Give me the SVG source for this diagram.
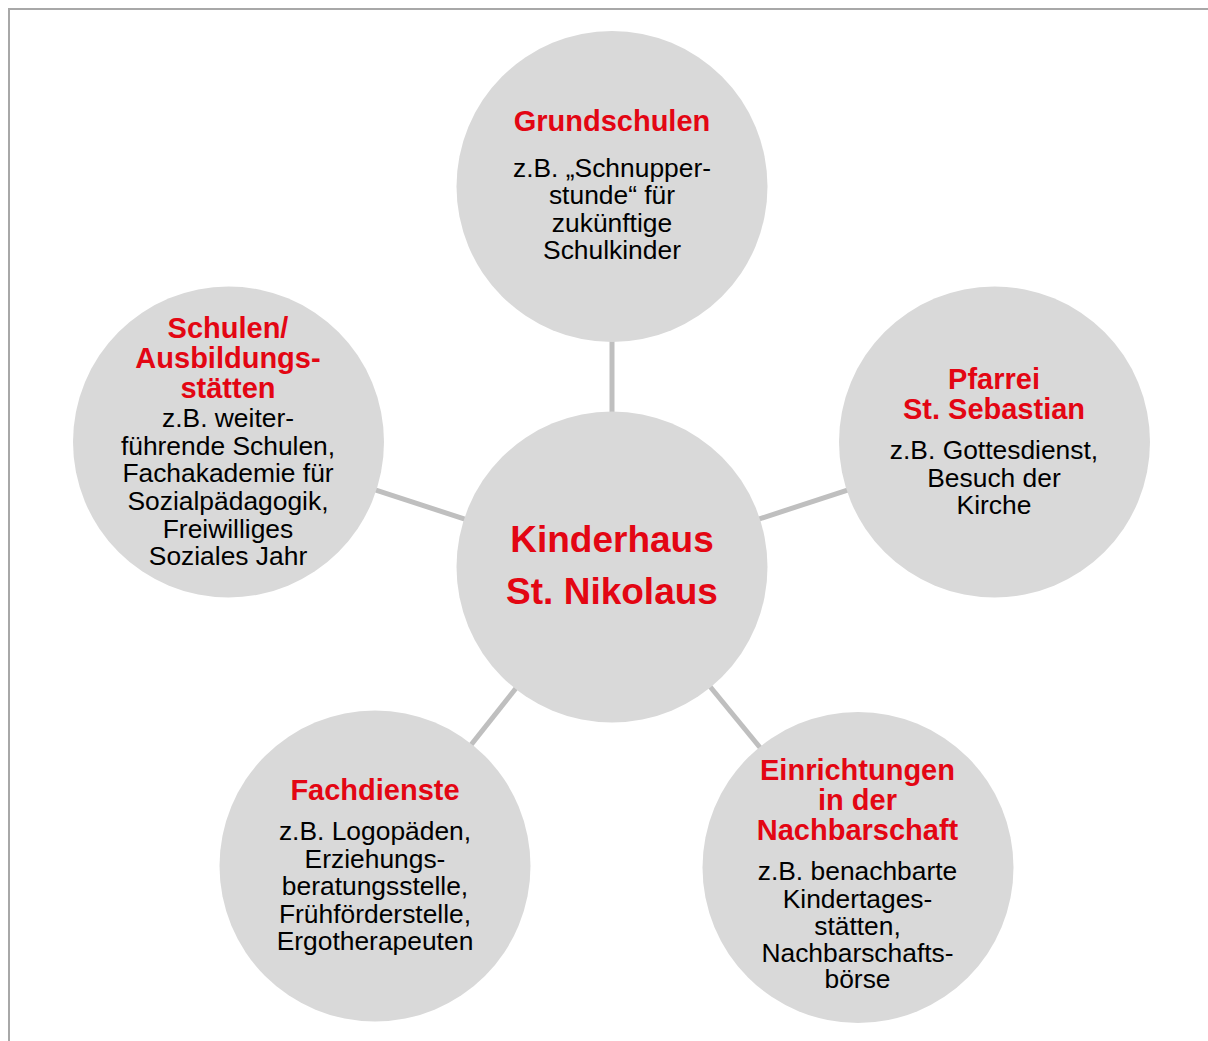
<svg xmlns="http://www.w3.org/2000/svg" width="1208" height="1041" viewBox="0 0 1208 1041">
  <style>
    .frame { stroke: #a8a8a8; stroke-width: 2; fill: none; }
    .link { stroke: #bfbfbf; stroke-width: 5; fill: none; }
    .bubble { fill: #d9d9d9; }
    text { font-family: "Liberation Sans", Arial, sans-serif; text-anchor: middle; }
    .title { fill: #e30613; font-weight: bold; font-size: 29px; }
    .main { fill: #e30613; font-weight: bold; font-size: 37px; }
    .body { fill: #000000; font-size: 26.4px; }
  </style>

  <rect width="1208" height="1041" fill="#ffffff"/>
  <line class="frame" x1="8" y1="9" x2="1208" y2="9"/>
  <line class="frame" x1="9" y1="8" x2="9" y2="1041"/>

  <!-- spokes from the hub to each partner -->
  <g id="connectors">
    <line class="link" x1="612" y1="567" x2="612" y2="187"/>
    <line class="link" x1="612" y1="567" x2="228" y2="442"/>
    <line class="link" x1="612" y1="567" x2="995" y2="442"/>
    <line class="link" x1="612" y1="567" x2="375" y2="866"/>
    <line class="link" x1="612" y1="567" x2="858" y2="867"/>
  </g>

  <g id="hub">
    <circle class="bubble" cx="612" cy="567" r="155.5"/>
    <text class="main" x="612" y="551.5">Kinderhaus</text>
    <text class="main" x="612" y="604">St. Nikolaus</text>
  </g>

  <g id="grundschulen">
    <circle class="bubble" cx="612" cy="186.5" r="155.5"/>
    <text class="title" x="612" y="131">Grundschulen</text>
    <text class="body" x="612" y="176.5">z.B. „Schnupper-</text>
    <text class="body" x="612" y="204">stunde“ für</text>
    <text class="body" x="612" y="231.5">zukünftige</text>
    <text class="body" x="612" y="259">Schulkinder</text>
  </g>

  <g id="schulen">
    <circle class="bubble" cx="228.5" cy="442" r="155.5"/>
    <text class="title" x="228" y="337.5">Schulen/</text>
    <text class="title" x="228" y="368">Ausbildungs-</text>
    <text class="title" x="228" y="398">stätten</text>
    <text class="body" x="228" y="426.5">z.B. weiter-</text>
    <text class="body" x="228" y="454.5">führende Schulen,</text>
    <text class="body" x="228" y="482">Fachakademie für</text>
    <text class="body" x="228" y="510">Sozialpädagogik,</text>
    <text class="body" x="228" y="537.5">Freiwilliges</text>
    <text class="body" x="228" y="565">Soziales Jahr</text>
  </g>

  <g id="pfarrei">
    <circle class="bubble" cx="994.5" cy="442" r="155.5"/>
    <text class="title" x="994" y="388.5">Pfarrei</text>
    <text class="title" x="994" y="418.5">St. Sebastian</text>
    <text class="body" x="994" y="459">z.B. Gottesdienst,</text>
    <text class="body" x="994" y="486.5">Besuch der</text>
    <text class="body" x="994" y="514">Kirche</text>
  </g>

  <g id="fachdienste">
    <circle class="bubble" cx="375" cy="866" r="155.5"/>
    <text class="title" x="375" y="800">Fachdienste</text>
    <text class="body" x="375" y="840">z.B. Logopäden,</text>
    <text class="body" x="375" y="867.5">Erziehungs-</text>
    <text class="body" x="375" y="895">beratungsstelle,</text>
    <text class="body" x="375" y="922.5">Frühförderstelle,</text>
    <text class="body" x="375" y="950">Ergotherapeuten</text>
  </g>

  <g id="nachbarschaft">
    <circle class="bubble" cx="858" cy="867.5" r="155.5"/>
    <text class="title" x="857.5" y="780">Einrichtungen</text>
    <text class="title" x="857.5" y="810">in der</text>
    <text class="title" x="857.5" y="840">Nachbarschaft</text>
    <text class="body" x="857.5" y="880">z.B. benachbarte</text>
    <text class="body" x="857.5" y="907.5">Kindertages-</text>
    <text class="body" x="857.5" y="935">stätten,</text>
    <text class="body" x="857.5" y="962">Nachbarschafts-</text>
    <text class="body" x="857.5" y="988">börse</text>
  </g>
</svg>
